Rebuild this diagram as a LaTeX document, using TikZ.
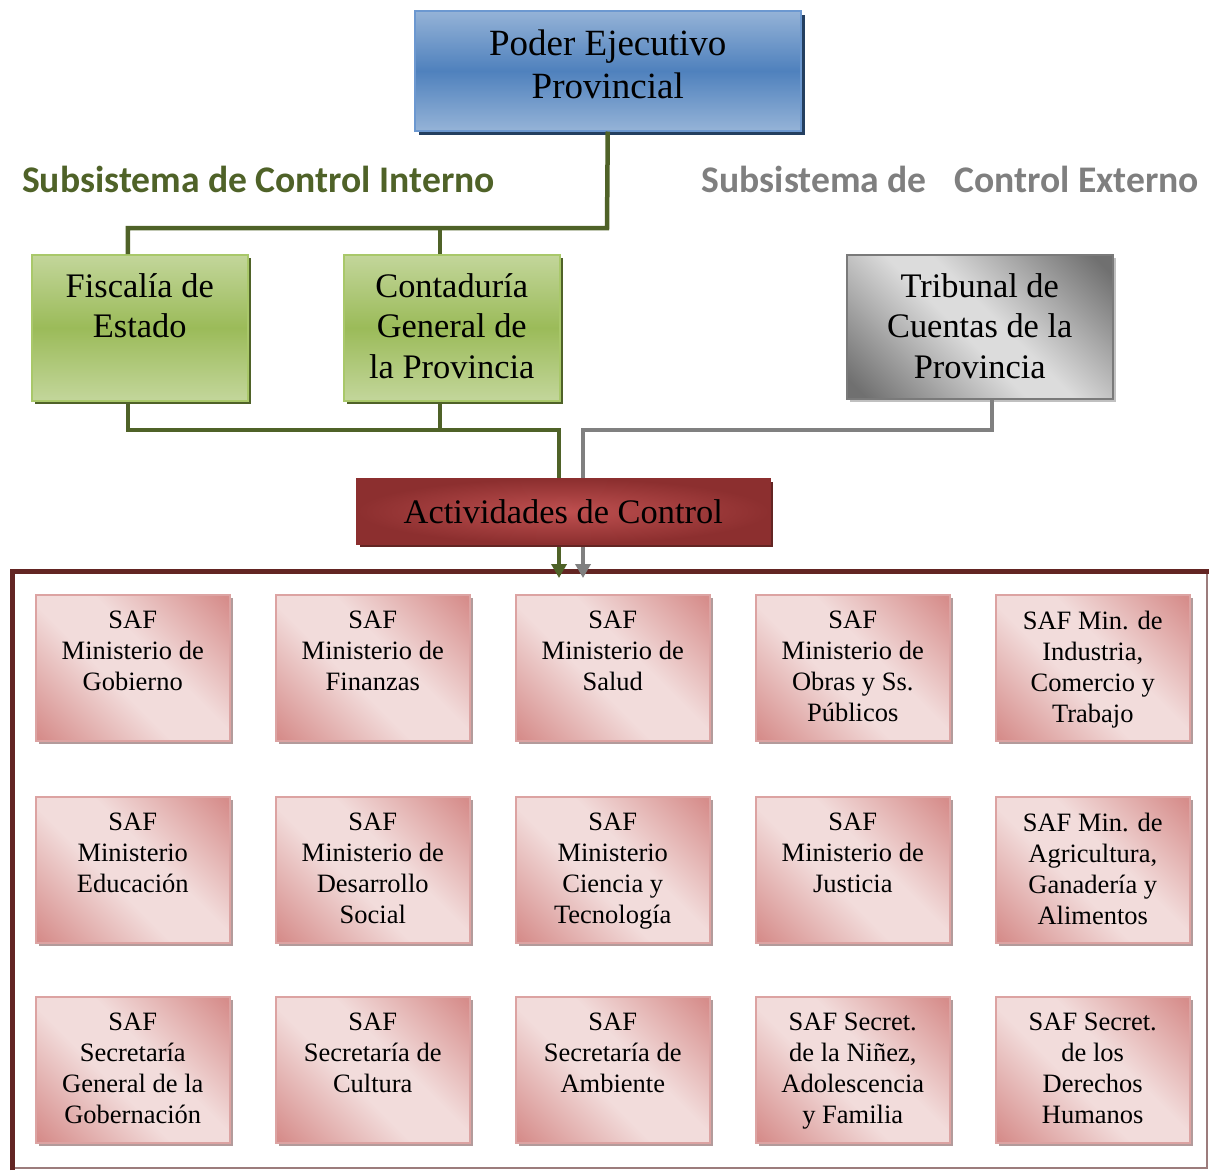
\documentclass[tikz,border=0pt]{standalone}
\usepackage{fontspec}
\setmainfont{Liberation Serif}
\newfontfamily\headfont{Carlito}
\usetikzlibrary{arrows.meta,shadows}

\definecolor{olive}{HTML}{4F6228}
\definecolor{greyline}{HTML}{808080}
\definecolor{greytitle}{HTML}{7F7F7F}
\definecolor{bluelight}{HTML}{95B3D7}
\definecolor{bluemid}{HTML}{4F81BD}
\definecolor{blueedge}{HTML}{6C98D0}
\definecolor{blueshadow}{HTML}{243F60}
\definecolor{greenlight}{HTML}{C3D69B}
\definecolor{greenmid}{HTML}{9BBB59}
\definecolor{greenedge}{HTML}{A9C86A}
\definecolor{greydark}{HTML}{707070}
\definecolor{greylight}{HTML}{DCDCDC}
\definecolor{greyedge}{HTML}{7A7A7A}
\definecolor{greyshadow}{HTML}{C0C0C0}
\definecolor{reddark}{HTML}{8C2F2F}
\definecolor{redlight}{HTML}{BF5050}
\definecolor{redshadow}{HTML}{632523}
\definecolor{pinkdark}{HTML}{D68D8B}
\definecolor{pinklight}{HTML}{F2DCDB}
\definecolor{pinkedge}{HTML}{DCA3A2}
\definecolor{pinkshadow}{HTML}{B39B9B}
\definecolor{framecol}{HTML}{632523}
\definecolor{framethin}{HTML}{9C7C7C}

% diagonal bands: dark corners, wide light centre
\pgfdeclarehorizontalshading{pinkdiag}{100bp}{color(0bp)=(pinkdark); color(16bp)=(pinkdark); color(43bp)=(pinklight); color(57bp)=(pinklight); color(84bp)=(pinkdark); color(100bp)=(pinkdark)}
\pgfdeclarehorizontalshading{greydiag}{100bp}{color(0bp)=(greydark); color(18bp)=(greydark); color(46bp)=(greylight); color(54bp)=(greylight); color(82bp)=(greydark); color(100bp)=(greydark)}

\begin{document}
\begin{tikzpicture}[x=1pt,y=-1pt,
  box/.style={rectangle, inner sep=0pt, anchor=north west, line width=1.5pt},
  bluebox/.style={box, draw=blueedge, top color=bluelight, bottom color=bluelight, middle color=bluemid,
    drop shadow={shadow xshift=4pt, shadow yshift=-4pt, fill=blueshadow, opacity=1},
    minimum width=386pt, minimum height=120pt},
  greenbox/.style={box, draw=greenedge, top color=greenlight, bottom color=greenlight, middle color=greenmid,
    drop shadow={shadow xshift=3pt, shadow yshift=-3pt, fill=olive, opacity=1},
    minimum width=216pt, minimum height=146pt},
  greybox/.style={box, draw=greyedge, shading=greydiag, shading angle=45,
    drop shadow={shadow xshift=3pt, shadow yshift=-3pt, fill=greyshadow, opacity=1},
    minimum width=266pt, minimum height=144pt},
  redbox/.style={box, draw=reddark, inner color=redlight, outer color=reddark,
    drop shadow={shadow xshift=3pt, shadow yshift=-3pt, fill=redshadow, opacity=1},
    minimum width=413pt, minimum height=65pt},
  pinkbox/.style={box, draw=pinkedge, shading=pinkdiag, shading angle=45,
    drop shadow={shadow xshift=3pt, shadow yshift=-3pt, fill=pinkshadow, opacity=1},
    minimum width=194pt, minimum height=146pt},
  bigtext/.style={inner sep=0pt, anchor=north, align=center, font=\fontsize{37}{43}\selectfont},
  midtext/.style={inner sep=0pt, anchor=north, align=center, font=\fontsize{34.4}{40.5}\selectfont},
  smalltext/.style={inner sep=0pt, anchor=north, align=center, font=\fontsize{26.5}{31}\selectfont},
  title/.style={inner sep=0pt, font=\headfont\bfseries\fontsize{37.6}{42}\selectfont},
  gline/.style={draw=olive, line width=4.5pt},
  tline/.style={draw=greyline, line width=4.5pt},
  tip/.style={-{Triangle[width=15pt,length=14pt]}}
]
\useasboundingbox (0,0) rectangle (1209,1170);

% outer frame of the executing units
\draw[framethin, line width=1.5pt] (12,1168) -- (1207,1168) -- (1207,571);
\draw[framecol, line width=5pt] (12,1170) -- (12,571) -- (1209,571);

% upper boxes
\node[bluebox] (pep) at (414,10) {};
\node[bigtext] (peptxt) at ([yshift=-20pt]pep.north) {Poder Ejecutivo\\Provincial};

\node[greenbox] (fis) at (31,254) {};
\node[midtext] (fistxt) at ([yshift=-19pt]fis.north) {Fiscalía de\\Estado};
\node[greenbox] (con) at (343,254) {};
\node[midtext] (contxt) at ([yshift=-19pt]con.north) {Contaduría\\General de\\la Provincia};

\node[greybox] (tri) at (846,254) {};
\node[midtext] (tritxt) at ([yshift=-19pt]tri.north) {Tribunal de\\Cuentas de la\\Provincia};

\node[title, text=olive, anchor=west] (tin) at (22,179) {Subsistema de Control Interno};
\node[title, text=greytitle, anchor=east] (tex) at (1199,179) {Subsistema de\hspace{0.5em} Control Externo};

% connectors
\coordinate (gbus) at (607,228);
\coordinate (gturn) at (559,430);
\coordinate (gtip) at (559,578);
\coordinate (tturn) at (583,430);
\coordinate (ttip) at (583,578);

\draw[gline] (pep.south) -- (gbus) -| ([xshift=-12pt]fis.north);
\draw[gline] ([xshift=-12pt]con.north) -- ([xshift=-12pt]con.north |- gbus);
\draw[gline, tip] ([xshift=-12pt]fis.south) |- (gturn) -- (gtip);
\draw[gline] ([xshift=-12pt]con.south) -- ([xshift=-12pt]con.south |- gturn);
\draw[tline, tip] ([xshift=12pt]tri.south) |- (tturn) -- (ttip);

% control activities
\node[redbox] (act) at (356,478) {};
\node[inner sep=0pt, font=\fontsize{34.4}{40}\selectfont] (acttxt) at (act.center) {Actividades de Control};

% administrative units
\foreach \col/\row/\txt [count=\i] in {
  35/594/{SAF\\Ministerio de\\Gobierno},
  275/594/{SAF\\Ministerio de\\Finanzas},
  515/594/{SAF\\Ministerio de\\Salud},
  755/594/{SAF\\Ministerio de\\Obras y Ss.\\Públicos},
  995/594/{SAF Min. de\\Industria,\\Comercio y\\Trabajo},
  35/796/{SAF\\Ministerio\\Educación},
  275/796/{SAF\\Ministerio de\\Desarrollo\\Social},
  515/796/{SAF\\Ministerio\\Ciencia y\\Tecnología},
  755/796/{SAF\\Ministerio de\\Justicia},
  995/796/{SAF Min. de\\Agricultura,\\Ganadería y\\Alimentos},
  35/996/{SAF\\Secretaría\\General de la\\Gobernación},
  275/996/{SAF\\Secretaría de\\Cultura},
  515/996/{SAF\\Secretaría de\\Ambiente},
  755/996/{SAF Secret.\\de la Niñez,\\Adolescencia\\y Familia},
  995/996/{SAF Secret.\\de los\\Derechos\\Humanos}}{
  \node[pinkbox] (saf\i) at (\col,\row) {};
  \node[smalltext] (saftxt\i) at ([yshift=-17pt]saf\i.north) {\txt};
}
\end{tikzpicture}
\end{document}
